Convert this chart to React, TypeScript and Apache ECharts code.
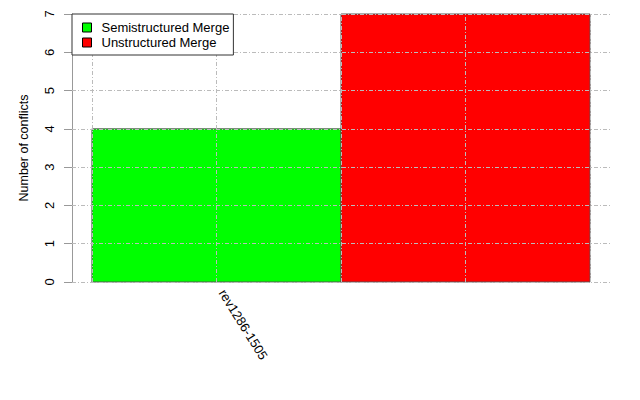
import React, { useEffect, useRef } from "react";
import * as echarts from "echarts";

const categories = ["rev1286-1505"];
const seriesNames = ["Semistructured Merge", "Unstructured Merge"];
const semistructured = [4];
const unstructured = [7];
const seriesColors = ["#00ff00", "#ff0000"];
const yMin = 0;
const yMax = 7;
const xGridTicks = [1, 1.5, 2, 2.5, 3];
const yGridTicks = [0, 1, 2, 3, 4, 5, 6, 7];

const FONT = "'Liberation Sans', Arial, Helvetica, sans-serif";

export default function App() {
  const ref = useRef<HTMLDivElement>(null);
  useEffect(() => {
    if (!ref.current) return;
    const chart = echarts.init(ref.current, undefined, { renderer: "svg" });
    const values = [semistructured, unstructured];
    const nSeries = values.length;
    const nGroups = categories.length;
    // R barplot(beside=TRUE) layout: one unit of space before each group
    const barCenter = (g: number, j: number) => 1 + g * (nSeries + 1) + j + 0.5;
    const xLeft = 1;
    const xRight = 1 + nGroups * (nSeries + 1) - 1;
    const pad = (xRight - xLeft) * 0.04;

    const barSeries = values.map((vals, j) => ({
      type: "custom",
      name: seriesNames[j],
      itemStyle: { color: seriesColors[j], borderColor: "#000", borderWidth: 1 },
      data: vals.map((v, g) => [barCenter(g, j), v]),
      z: 2,
      renderItem: (params: any, api: any) => {
        const x = api.value(0);
        const y = api.value(1);
        const p0 = api.coord([x - 0.5, y]);
        const p1 = api.coord([x + 0.5, 0]);
        return {
          type: "rect",
          shape: { x: p0[0], y: p0[1], width: p1[0] - p0[0], height: p1[1] - p0[1] },
          style: { fill: seriesColors[j], stroke: "#555", lineWidth: 1 },
        };
      },
    }));

    chart.setOption({
      animation: false,
      textStyle: { fontFamily: FONT },
      grid: { left: 72, right: 30, top: 14, bottom: 118 },
      legend: {
        data: seriesNames,
        orient: "vertical",
        left: 72,
        top: 14,
        itemWidth: 9,
        itemHeight: 9,
        itemGap: 2,
        padding: [7, 4, 6, 10],
        borderColor: "#333",
        borderWidth: 1,
        backgroundColor: "#fff",
        icon: "rect",
        itemStyle: { borderColor: "#000", borderWidth: 1 },
        textStyle: { fontSize: 13, color: "#000", fontFamily: FONT, padding: [0, 0, 0, 5] },
        z: 10,
      },
      xAxis: {
        type: "value",
        min: xLeft - pad,
        max: xRight + pad,
        axisLine: { show: false },
        axisTick: { show: false },
        splitLine: { show: false },
        axisLabel: {
          customValues: categories.map((_, g) => barCenter(g, 0)),
          formatter: (v: number) => {
            const g = categories.findIndex((_, i) => Math.abs(barCenter(i, 0) - v) < 1e-6);
            return g >= 0 ? categories[g] : "";
          },
          rotate: -58,
          margin: 12,
          verticalAlign: "bottom",
          fontSize: 13,
          color: "#000",
          fontFamily: FONT,
        },
      },
      yAxis: {
        type: "value",
        min: yMin,
        max: yMax,
        interval: 1,
        name: "Number of conflicts",
        nameLocation: "middle",
        nameGap: 42,
        nameRotate: 90,
        nameTextStyle: { fontSize: 12.5, color: "#000", fontFamily: FONT },
        axisLine: { show: true, lineStyle: { color: "#999", width: 1 } },
        axisTick: { show: true, length: 8, lineStyle: { color: "#999" } },
        axisLabel: { rotate: 90, margin: 16, fontSize: 13, color: "#000", fontFamily: FONT },
        splitLine: { show: false },
      },
      series: [
        ...barSeries,
        {
          type: "line",
          name: "grid",
          data: [],
          z: 5,
          silent: true,
          markLine: {
            silent: true,
            symbol: ["none", "none"],
            label: { show: false },
            lineStyle: { color: "#bbb", type: [4, 2, 1, 2], width: 1 },
            emphasis: { disabled: true },
            data: [
              ...xGridTicks.map((v) => ({ xAxis: v })),
              ...yGridTicks.map((v) => ({ yAxis: v })),
            ],
          },
        },
      ],
    });
    return () => chart.dispose();
  }, []);
  return (
    <div
      ref={ref}
      style={{ position: "fixed", left: 0, top: 0, width: 640, height: 400, background: "#fff" }}
    />
  );
}
